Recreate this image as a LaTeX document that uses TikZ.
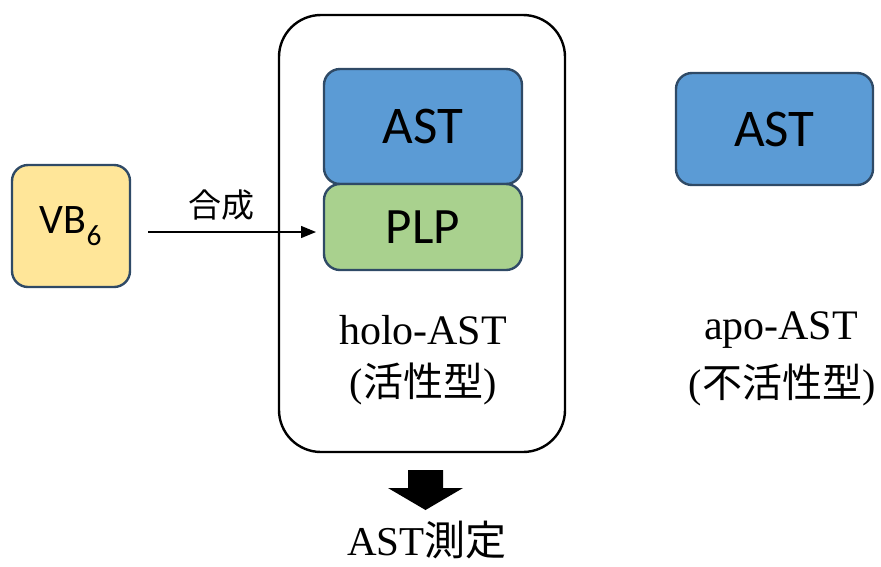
\documentclass[tikz,border=0pt]{standalone}
\usepackage{fontspec}
\setmainfont{Liberation Serif}
\newfontfamily\boxfont{Carlito}
\newfontfamily\jp{Noto Sans CJK JP}
\usetikzlibrary{arrows.meta}
\definecolor{astblue}{HTML}{5B9BD5}
\definecolor{plpgreen}{HTML}{A9D18E}
\definecolor{vbyellow}{HTML}{FFE699}
\definecolor{edgeblue}{HTML}{2F4A66}
\tikzset{
  colbox/.style={draw=edgeblue, line width=2.4pt, rounded corners=16pt, inner sep=0pt, font=\boxfont\fontsize{53}{56}\selectfont},
  lbl/.style={inner sep=0pt, align=center},
}
\begin{document}
\begin{tikzpicture}[x=1pt,y=-1pt]
\useasboundingbox (0,0) rectangle (881,566);
\node[draw, line width=2.4pt, rounded corners=42pt, minimum width=286pt, minimum height=437pt] (outer) at (422,233.5) {};
\node[colbox, fill=astblue, minimum width=198pt, minimum height=115pt] (ast1) at (423,126.5) {AST};
\node[colbox, fill=plpgreen, minimum width=198pt, minimum height=86pt, font=\boxfont\fontsize{51}{54}\selectfont] (plp) at (423,227) {PLP};
\node[colbox, fill=astblue, minimum width=197pt, minimum height=112pt] (ast2) at (774.5,129) {AST};
\node[colbox, fill=vbyellow, minimum width=118pt, minimum height=122pt, font=\boxfont\fontsize{42}{46}\selectfont] (vb) at (71,226) {VB\textsubscript{6}};
\coordinate (a0) at (148,232);
\coordinate (a1) at (316,232);
\draw[line width=1.3pt, -{Triangle[length=15pt,width=12pt]}] (a0) -- (a1);
\node[lbl, font=\jp\fontsize{33}{35}\selectfont] (syn) at (221,205) {合成};
\node[lbl, font=\fontsize{42}{44}\selectfont] (holo) at (423,330) {holo-AST};
\node[lbl, font=\fontsize{40}{42}\selectfont] (holoj) at (423,384) {(\jp 活性型\rm)};
\node[lbl, font=\fontsize{42}{44}\selectfont] (apo) at (781,330) {apo-AST};
\node[lbl, font=\fontsize{40}{42}\selectfont] (apoj) at (782,385) {(\jp 不活性型\rm)};
\fill (408,470) -- (443,470) -- (443,488) -- (463,488) -- (425.5,510) -- (388,488) -- (408,488) -- cycle;
\node[lbl, font=\fontsize{41}{43}\selectfont] (meas) at (427,540) {AST\jp 測定};
\end{tikzpicture}
\end{document}
